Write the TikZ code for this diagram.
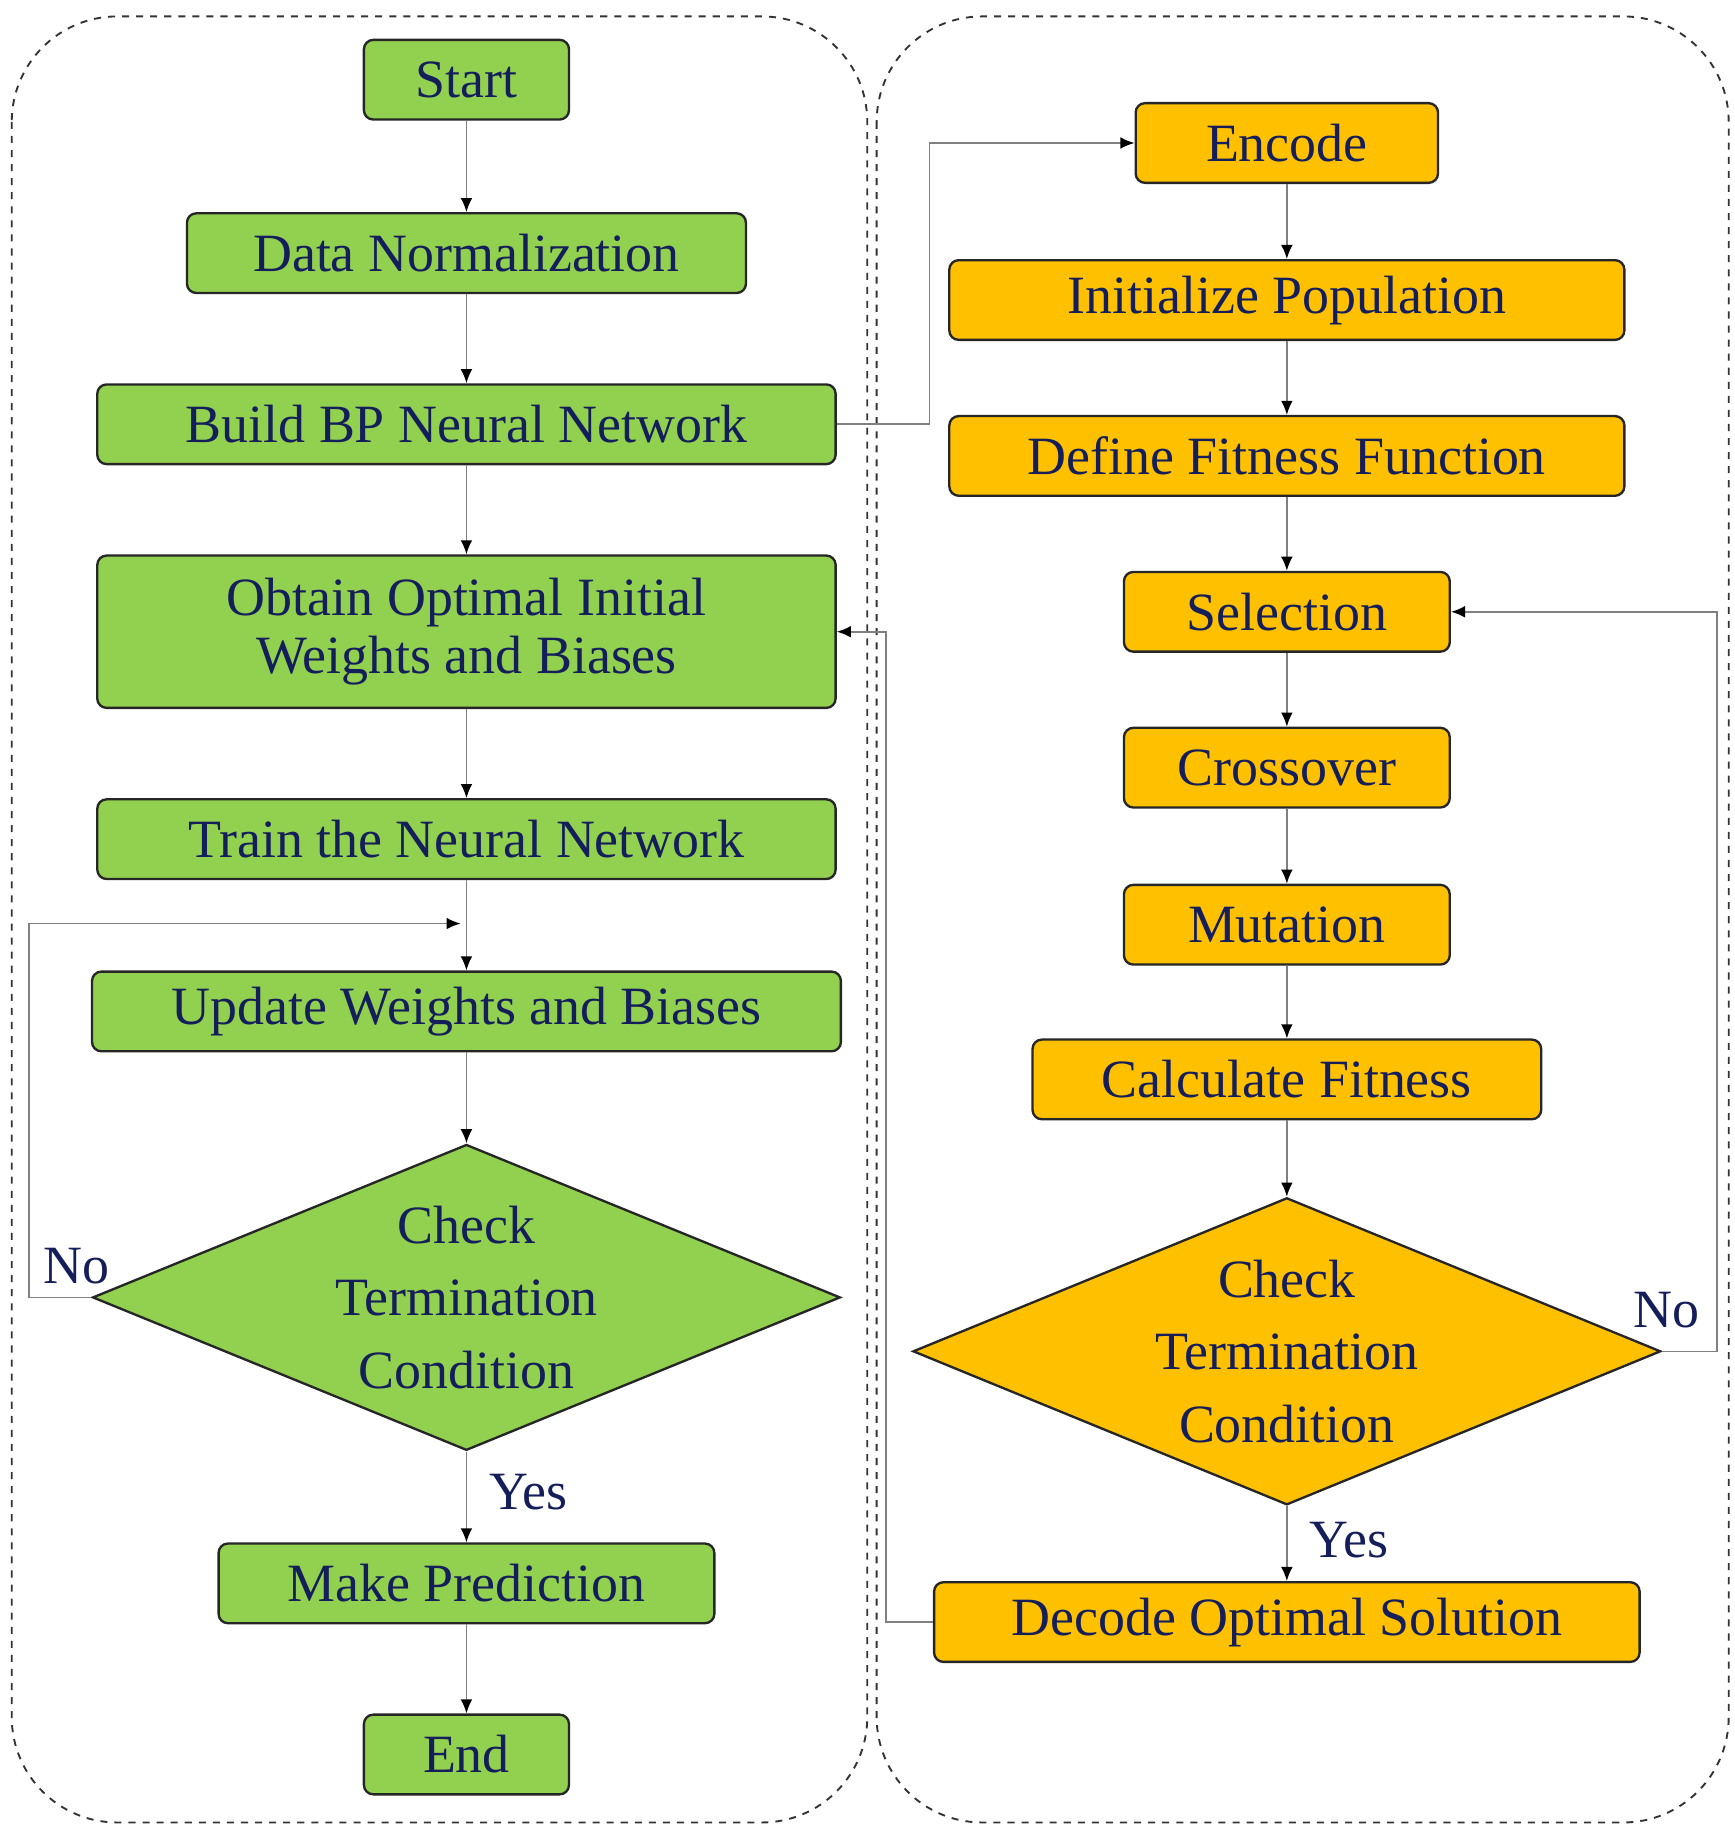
\documentclass[tikz,border=0pt]{standalone}
\usepackage{fontspec}
\setmainfont{Liberation Serif}
\usetikzlibrary{shapes.geometric,arrows.meta}
\definecolor{gr}{HTML}{92D050}
\definecolor{og}{HTML}{FFC000}
\definecolor{tx}{RGB}{20,30,90}
\tikzset{
 box/.style={draw=black!85,line width=1pt,rounded corners=4pt,minimum height=34pt,inner sep=0pt,text=tx,font=\fontsize{23}{25}\selectfont,align=center},
 gbox/.style={box,fill=gr},
 obox/.style={box,fill=og},
 dia/.style={diamond,draw=black!85,line width=1pt,aspect=2.44,inner sep=0pt,text=tx,font=\fontsize{23}{31}\selectfont,align=center},
 ar/.style={draw=black!50,line width=0.7pt,-{Latex[length=6pt,width=5pt,color=black]}},
 lab/.style={text=tx,font=\fontsize{23}{25}\selectfont},
 frame/.style={draw=black!80,dashed,line width=0.8pt,rounded corners=45pt}
}
\begin{document}
\begin{tikzpicture}[x=0.5pt,y=-0.5pt]
\useasboundingbox (0,0) rectangle (1480,1564);
\draw[frame] (10,14) rectangle (740,1555);
\draw[frame] (748,14) rectangle (1475,1555);
% left
\node[gbox,minimum width=87.5pt] (start) at (398,68) {Start};
\node[gbox,minimum width=238.5pt] (norm) at (398,216) {Data Normalization};
\node[gbox,minimum width=315pt] (build) at (398,362) {Build BP Neural Network};
\node[gbox,minimum width=315pt,minimum height=65pt] (obt) at (398,539) {Obtain Optimal Initial\\Weights and Biases};
\node[gbox,minimum width=315pt] (train) at (398,716) {Train the Neural Network};
\node[gbox,minimum width=319.5pt] (upd) at (398,863) {Update Weights and Biases};
\node[dia,fill=gr,minimum width=319pt,minimum height=130.5pt] (chk1) at (398,1107) {Check\\Termination\\Condition};
\node[gbox,minimum width=211.5pt] (pred) at (398,1351) {Make Prediction};
\node[gbox,minimum width=87.5pt] (end) at (398,1497) {End};
% right
\node[obox,minimum width=129pt] (enc) at (1098,122) {Encode};
\node[obox,minimum width=288pt] (init) at (1098,256) {Initialize Population};
\node[obox,minimum width=288pt] (fit) at (1098,389) {Define Fitness Function};
\node[obox,minimum width=139pt] (sel) at (1098,522) {Selection};
\node[obox,minimum width=139pt] (cro) at (1098,655) {Crossover};
\node[obox,minimum width=139pt] (mut) at (1098,789) {Mutation};
\node[obox,minimum width=217pt] (calc) at (1098,921) {Calculate Fitness};
\node[dia,fill=og,minimum width=319pt,minimum height=131pt] (chk2) at (1098,1153) {Check\\Termination\\Condition};
\node[obox,minimum width=301pt] (dec) at (1098,1384) {Decode Optimal Solution};
% arrows left
\draw[ar] (start) -- (norm);
\draw[ar] (norm) -- (build);
\draw[ar] (build) -- (obt);
\draw[ar] (obt) -- (train);
\draw[ar] (train) -- (upd);
\draw[ar] (upd) -- (chk1);
\draw[ar] (chk1) -- node[lab,right=6pt,pos=0.45]{Yes} (pred);
\draw[ar] (pred) -- (end);
\coordinate (nl) at (393,788);
\draw[ar] (chk1.west) -- (25,1107) -- (25,788) -- (nl);
\node[lab] at (65,1080) {No};
% arrows right
\draw[ar] (enc) -- (init);
\draw[ar] (init) -- (fit);
\draw[ar] (fit) -- (sel);
\draw[ar] (sel) -- (cro);
\draw[ar] (cro) -- (mut);
\draw[ar] (mut) -- (calc);
\draw[ar] (calc) -- (chk2);
\draw[ar] (chk2) -- node[lab,right=6pt,pos=0.45]{Yes} (dec);
\draw[ar] (chk2.east) -- (1465,1153) -- (1465,522) -- (sel.east);
\node[lab] at (1422,1118) {No};
% cross
\draw[ar] (build.east) -- (793,362) -- (793,122) -- (enc.west);
\draw[ar] (dec.west) -- (756,1384) -- (756,539) -- (obt.east);
\end{tikzpicture}
\end{document}
